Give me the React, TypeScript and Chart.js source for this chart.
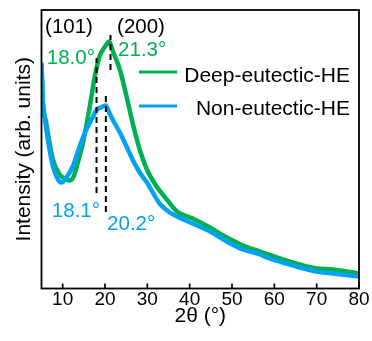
import React, { useEffect, useRef } from "react";
import { Chart, registerables } from "chart.js";

Chart.register(...registerables);

// ---- data (2θ in degrees, intensity in arbitrary units) ----
const xTickValues = [10, 20, 30, 40, 50, 60, 70, 80];

const deepX = [5, 5.3, 6.1, 7.7, 9.3, 10.5, 11.5, 12.5, 13.4, 14.8, 16.4, 17.6, 18.7, 20.2, 21.0, 21.8, 23.5, 25.1, 26.5, 28.2, 29.9, 32.2, 34.6, 37, 40.7, 44.8, 48.8, 52.6, 56.6, 62, 66, 70, 73.8, 80];
const deepY = [224, 188, 166, 129, 114, 110, 108, 111, 123, 146, 182, 212, 232, 243, 247, 238, 219, 192, 166, 139, 119, 102, 89, 77, 70, 61, 51, 43, 37, 29, 24, 20, 19, 15];

const nonX = [5, 5.3, 5.75, 6.5, 7.7, 8.9, 9.7, 10.9, 12.4, 14.0, 15.6, 17.2, 18.1, 19.0, 20.2, 21.0, 21.8, 23.5, 25.1, 26.5, 28.2, 29.9, 31.3, 32.9, 35, 37.0, 40.7, 44.8, 48.8, 52.6, 56.6, 58.2, 62.0, 66.0, 70.0, 73.8, 80];
const nonY = [226, 189, 172, 149, 122, 109, 106, 111, 122, 142, 159, 172, 179, 181, 183, 176, 169, 156, 142, 129, 116, 106, 96, 85, 77, 72, 65, 57, 47, 39, 34, 31, 26, 21, 17, 15, 12];

// peak marker lines (2θ, lower and upper intensity)
const peakX = [18.0, 21.3, 20.2];
const peakLow = [95.5, 218.5, 76.5];
const peakHigh = [230.5, 253.5, 195.5];

const seriesNames = ["Deep-eutectic-HE", "Non-eutectic-HE"];
const seriesColors = ["#00B050", "#00A2F2"];

// text annotations: text, 2θ anchor, intensity anchor (baseline), alignment
const annText = ["(101)", "(200)", "18.0°", "21.3°", "18.1°", "20.2°"];
const annX = [11.5, 28.5, 17.6, 23.1, 18.8, 20.5];
const annY = [255.5, 255.5, 224.5, 232.5, 71.5, 58.5];
const annAlign = ["center", "center", "right", "left", "right", "left"];
const annColor = ["#000", "#000", seriesColors[0], seriesColors[0], seriesColors[1], seriesColors[1]];

const FONT = "Arial, 'Liberation Sans', sans-serif";

const overlayPlugin = {
  id: "overlay",
  afterDatasetsDraw(chart: any) {
    const { ctx, chartArea: a, scales } = chart;
    const xs = scales.x;
    const ys = scales.y;
    ctx.save();
    // frame
    ctx.strokeStyle = "#000";
    ctx.lineWidth = 1.8;
    ctx.setLineDash([]);
    ctx.strokeRect(a.left, a.top, a.right - a.left, a.bottom - a.top);
    // inner ticks
    ctx.lineWidth = 1.7;
    for (const v of xTickValues) {
      const px = xs.getPixelForValue(v);
      ctx.beginPath();
      ctx.moveTo(px, a.bottom);
      ctx.lineTo(px, a.bottom - 5);
      ctx.stroke();
    }
    // peak labels
    ctx.font = `20.5px ${FONT}`;
    ctx.textBaseline = "alphabetic";
    annText.forEach((t, i) => {
      ctx.fillStyle = annColor[i];
      ctx.textAlign = annAlign[i] as CanvasTextAlign;
      ctx.fillText(t, xs.getPixelForValue(annX[i]), ys.getPixelForValue(annY[i]));
    });
    // legend
    ctx.font = `21px ${FONT}`;
    ctx.textAlign = "right";
    const lx0 = a.left + 97.5;
    const lx1 = a.left + 135.5;
    const tx = a.left + 308.5;
    const rows = [
      { ly: a.top + 62, ty: a.top + 72 },
      { ly: a.top + 96, ty: a.top + 105 },
    ];
    rows.forEach((r, i) => {
      ctx.strokeStyle = seriesColors[i];
      ctx.lineWidth = 3;
      ctx.beginPath();
      ctx.moveTo(lx0, r.ly);
      ctx.lineTo(lx1, r.ly);
      ctx.stroke();
      ctx.fillStyle = "#000";
      ctx.fillText(seriesNames[i], tx, r.ty);
    });
    ctx.restore();
  },
};

export default function App() {
  const ref = useRef<HTMLCanvasElement | null>(null);

  useEffect(() => {
    if (!ref.current) return;
    Chart.defaults.font.family = FONT;
    const dashSets = peakX.map((px, i) => ({
      label: "peak" + i,
      data: [
        { x: px, y: peakLow[i] },
        { x: px, y: peakHigh[i] },
      ],
      borderColor: "#000",
      borderWidth: 2,
      borderDash: [6, 4],
      pointRadius: 0,
      fill: false,
    }));
    const chart = new Chart(ref.current, {
      type: "line",
      data: {
        datasets: [
          ...dashSets,
          {
            label: seriesNames[1],
            data: nonX.map((x, i) => ({ x, y: nonY[i] })),
            borderColor: seriesColors[1],
            borderWidth: 4.5,
            pointRadius: 0,
            cubicInterpolationMode: "monotone",
            fill: false,
          },
          {
            label: seriesNames[0],
            data: deepX.map((x, i) => ({ x, y: deepY[i] })),
            borderColor: seriesColors[0],
            borderWidth: 4.5,
            pointRadius: 0,
            cubicInterpolationMode: "monotone",
            fill: false,
          },
        ] as any,
      },
      options: {
        animation: false,
        responsive: false,
        layout: { padding: { top: 10, right: 13, left: 0, bottom: 0 } },
        plugins: { legend: { display: false }, tooltip: { enabled: false } },
        scales: {
          x: {
            type: "linear",
            min: 5,
            max: 80,
            afterBuildTicks: (s: any) => {
              s.ticks = xTickValues.map((v) => ({ value: v }));
            },
            afterFit: (s: any) => {
              s.height = 52.5;
            },
            ticks: {
              color: "#000",
              font: { size: 19 },
              padding: 0,
              maxRotation: 0,
              autoSkip: false,
            },
            grid: { display: false, drawTicks: false },
            border: { display: false },
            title: {
              display: true,
              text: "2θ (°)",
              color: "#000",
              font: { size: 21 },
              padding: { top: 0, bottom: 12 },
            },
          },
          y: {
            type: "linear",
            min: 0,
            max: 278.5,
            afterFit: (s: any) => {
              s.width = 41.5;
            },
            ticks: { display: false },
            grid: { display: false, drawTicks: false },
            border: { display: false },
            title: {
              display: true,
              text: "Intensity (arb. units)",
              color: "#000",
              font: { size: 21 },
              padding: { top: 12, bottom: 0 },
            },
          },
        },
      },
      plugins: [overlayPlugin],
    } as any);
    return () => chart.destroy();
  }, []);

  return (
    <div style={{ position: "fixed", left: 0, top: 0, width: 372, height: 341, background: "#fff" }}>
      <canvas ref={ref} width={372} height={341} style={{ display: "block" }} />
    </div>
  );
}
